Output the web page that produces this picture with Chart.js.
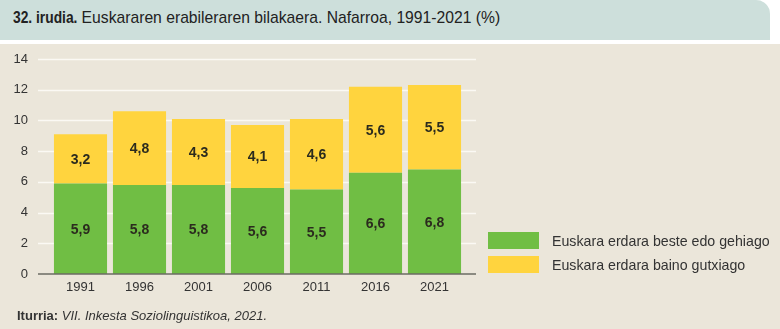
<!DOCTYPE html>
<html>
<head>
<meta charset="utf-8">
<script src="https://cdn.jsdelivr.net/npm/chart.js@4.4.1/dist/chart.umd.min.js"></script>
<style>
  html, body { margin: 0; padding: 0; }
  body { width: 780px; height: 329px; background: #ebe6da; position: relative; overflow: hidden; font-family: "Liberation Sans", Arial, sans-serif; }
  #topstrip { position: absolute; left: 0; top: 0; width: 780px; height: 44px; background: #fff; }
  #header { position: absolute; left: 0; top: 0; width: 770px; height: 40px; background: #cddfdb; border-top-right-radius: 14px; }
  #title { position: absolute; left: 13px; top: 10px; font-size: 15.7px; line-height: 16px; color: #222; white-space: nowrap; }
  #title b { display: inline-block; transform: scaleX(0.88); transform-origin: 0 0; margin-right: -9px; }
  #wrap { position: absolute; left: 0; top: 44px; width: 780px; height: 285px; }
  #legend { position: absolute; left: 488px; top: 232px; font-size: 14.2px; color: #333; }
  .item { display: flex; align-items: center; height: 17px; margin-bottom: 7px; }
  .box { width: 51px; height: 17px; margin-right: 13px; }
  #source { position: absolute; left: 17px; top: 308px; font-size: 13px; color: #333; }
</style>
</head>
<body>
<div id="topstrip"></div>
<div id="header"><div id="title"><b>32. irudia.</b> Euskararen erabileraren bilakaera. Nafarroa, 1991-2021 (%)</div></div>
<div id="wrap"><canvas id="chart"></canvas></div>
<div id="legend"></div>
<div id="source"><b>Iturria:</b> <i>VII. Inkesta Soziolinguistikoa, 2021.</i></div>
<script>
const years = ['1991', '1996', '2001', '2006', '2011', '2016', '2021'];
const seriesNames = ['Euskara erdara beste edo gehiago', 'Euskara erdara baino gutxiago'];
const moreOrEqual = [5.9, 5.8, 5.8, 5.6, 5.5, 6.6, 6.8];
const lessThan = [3.2, 4.8, 4.3, 4.1, 4.6, 5.6, 5.5];
const yTicks = [0, 2, 4, 6, 8, 10, 12, 14];
const colors = ['#70be44', '#ffd43e'];

// legend (html, to the right of the plot)
const legend = document.getElementById('legend');
seriesNames.forEach((name, i) => {
    const row = document.createElement('div');
    row.className = 'item';
    row.innerHTML = '<span class="box" style="background:' + colors[i] + '"></span>' + name;
    legend.appendChild(row);
});

// grid lines and base line run a bit past the bars on both sides
const gridPlugin = {
    id: 'grid',
    beforeDatasetsDraw(chart) {
        const ctx = chart.ctx;
        const y = chart.scales.y;
        const left = chart.chartArea.left - 13;
        const right = chart.chartArea.right + 12;
        ctx.save();
        ctx.strokeStyle = '#fbf9f4';
        ctx.lineWidth = 1.5;
        yTicks.forEach(t => {
            if (t === 0) return;
            const py = Math.round(y.getPixelForValue(t)) + 0.5;
            ctx.beginPath();
            ctx.moveTo(left, py);
            ctx.lineTo(right, py);
            ctx.stroke();
        });
        ctx.restore();
    },
    afterDatasetsDraw(chart) {
        const ctx = chart.ctx;
        const y = chart.scales.y;
        const left = chart.chartArea.left - 13;
        const right = chart.chartArea.right + 12;
        ctx.save();
        ctx.strokeStyle = '#6b6b63';
        ctx.lineWidth = 1.5;
        const py = y.getPixelForValue(0);
        ctx.beginPath();
        ctx.moveTo(left, py);
        ctx.lineTo(right, py);
        ctx.stroke();

        // value labels in the middle of each segment
        ctx.font = 'bold 14px "Liberation Sans", Arial, sans-serif';
        ctx.fillStyle = '#2b2b1e';
        ctx.textAlign = 'center';
        ctx.textBaseline = 'middle';
        chart.data.datasets.forEach((ds, di) => {
            chart.getDatasetMeta(di).data.forEach((bar, i) => {
                const txt = ds.data[i].toFixed(1).replace('.', ',');
                ctx.fillText(txt, bar.x, (bar.y + bar.base) / 2 + 1);
            });
        });
        ctx.restore();
    }
};

const ctx = document.getElementById('chart').getContext('2d');
new Chart(ctx, {
    type: 'bar',
    data: {
        labels: years,
        datasets: [
            { label: seriesNames[0], data: moreOrEqual, backgroundColor: colors[0], barPercentage: 0.9, categoryPercentage: 1 },
            { label: seriesNames[1], data: lessThan, backgroundColor: colors[1], barPercentage: 0.9, categoryPercentage: 1 }
        ]
    },
    options: {
        responsive: true,
        maintainAspectRatio: false,
        animation: false,
        layout: { padding: { top: 0, right: 316, left: 0, bottom: 0 } },
        plugins: {
            legend: { display: false },
            tooltip: { enabled: false }
        },
        scales: {
            x: {
                stacked: true,
                grid: { display: false, drawTicks: false },
                border: { display: false },
                ticks: { color: '#333', font: { size: 13, family: '"Liberation Sans", Arial' }, padding: 6 },
                afterFit: scale => { scale.height = 55; }
            },
            y: {
                stacked: true,
                min: 0,
                max: 14,
                grid: { display: false, drawTicks: false },
                border: { display: false },
                afterBuildTicks: scale => { scale.ticks = yTicks.map(v => ({ value: v })); },
                ticks: { color: '#333', font: { size: 13, family: '"Liberation Sans", Arial' }, padding: 23 },
                afterFit: scale => {
                    scale.width = 51;
                    scale.paddingTop = 15;
                    scale.paddingBottom = 0;
                }
            }
        }
    },
    plugins: [gridPlugin]
});
</script>
</body>
</html>
